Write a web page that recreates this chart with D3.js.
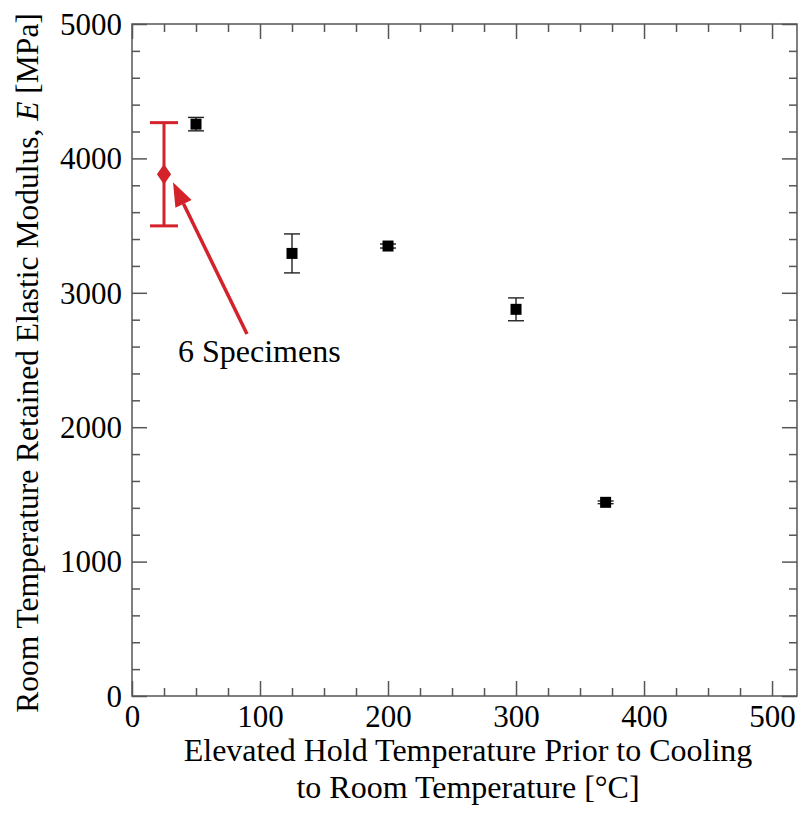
<!DOCTYPE html>
<html>
<head>
<meta charset="utf-8">
<script src="https://cdn.jsdelivr.net/npm/d3@7"></script>
<style>
  html, body { margin: 0; padding: 0; background: #fff; }
  svg { display: block; }
  svg text { font-family: "Liberation Serif", "Times New Roman", serif; }
</style>
</head>
<body>
<svg id="chart" width="800" height="822"></svg>
<script>
// Heat-exposed specimens: hold temperature (°C), retained modulus (MPa), ± spread
const holdTemps   = [50, 125, 200, 300, 370];
const modulusMean = [4255, 3293, 3348, 2877, 1441];
const modulusErr  = [50, 145, 15, 85, 10];

// Reference (unexposed) group of 6 specimens
const refTemp = [25];
const refMean = [3882];
const refErr  = [384];

const xMajorTicks = [0, 100, 200, 300, 400, 500];
const yMajorTicks = [0, 1000, 2000, 3000, 4000, 5000];

const svg = d3.select("#chart");
const margin = { left: 132, top: 24, right: 797, bottom: 696 };

const x = d3.scaleLinear().domain([0, 519.5]).range([margin.left, margin.right]);
const y = d3.scaleLinear().domain([0, 5000]).range([margin.bottom, margin.top]);

const axisColor = "#555";
const red = "#d3222a";
const tickFont = 31;
const titleFont = 32;

// Inward ticks on all four sides
const xMinor = d3.range(0, 520, 25).filter(v => v % 100 !== 0);
const yMinor = d3.range(0, 5001, 200).filter(v => v % 1000 !== 0);

function addAxis(gen, transform) {
  const g = svg.append("g").attr("transform", transform).call(gen)
    .attr("font-family", null).attr("font-size", null);
  g.select(".domain").remove();
  g.selectAll("line").attr("stroke", axisColor).attr("stroke-width", 1.5);
  return g;
}

// bottom
addAxis(d3.axisBottom(x).tickValues(xMajorTicks).tickSize(-15).tickFormat(d3.format("d")),
        `translate(0,${margin.bottom})`)
  .selectAll("text").attr("font-size", tickFont).attr("fill", "#000").attr("dy", null).attr("y", 31);
addAxis(d3.axisBottom(x).tickValues(xMinor).tickSize(-8).tickFormat(""), `translate(0,${margin.bottom})`);
// top
addAxis(d3.axisTop(x).tickValues(xMajorTicks).tickSize(-15).tickFormat(""), `translate(0,${margin.top})`);
addAxis(d3.axisTop(x).tickValues(xMinor).tickSize(-8).tickFormat(""), `translate(0,${margin.top})`);
// left
addAxis(d3.axisLeft(y).tickValues(yMajorTicks).tickSize(-15).tickFormat(d3.format("d")),
        `translate(${margin.left},0)`)
  .selectAll("text").attr("font-size", tickFont).attr("fill", "#000").attr("x", -10).attr("dy", "0.33em");
addAxis(d3.axisLeft(y).tickValues(yMinor).tickSize(-8).tickFormat(""), `translate(${margin.left},0)`);
// right
addAxis(d3.axisRight(y).tickValues(yMajorTicks).tickSize(-15).tickFormat(""), `translate(${margin.right},0)`);
addAxis(d3.axisRight(y).tickValues(yMinor).tickSize(-8).tickFormat(""), `translate(${margin.right},0)`);

// frame
svg.append("rect")
  .attr("x", margin.left).attr("y", margin.top)
  .attr("width", margin.right - margin.left).attr("height", margin.bottom - margin.top)
  .attr("fill", "none").attr("stroke", axisColor).attr("stroke-width", 1.5);

// Heat-exposed series: error bars + square markers
const pts = holdTemps.map((t, i) => ({ t, m: modulusMean[i], e: modulusErr[i] }));
const eb = svg.append("g").attr("stroke", "#222").attr("stroke-width", 1.4);
pts.forEach(d => {
  const cx = x(d.t), top = y(d.m + d.e), bot = y(d.m - d.e);
  eb.append("line").attr("x1", cx).attr("x2", cx).attr("y1", top).attr("y2", bot);
  eb.append("line").attr("x1", cx - 8).attr("x2", cx + 8).attr("y1", top).attr("y2", top);
  eb.append("line").attr("x1", cx - 8).attr("x2", cx + 8).attr("y1", bot).attr("y2", bot);
});
svg.append("g").selectAll("rect").data(pts).join("rect")
  .attr("x", d => x(d.t) - 5.5).attr("y", d => y(d.m) - 5.5)
  .attr("width", 11).attr("height", 11).attr("fill", "#000");

// Reference group: red error bar + diamond
const ref = refTemp.map((t, i) => ({ t, m: refMean[i], e: refErr[i] }));
const rg = svg.append("g").attr("stroke", red).attr("stroke-width", 3);
ref.forEach(d => {
  const cx = x(d.t), top = y(d.m + d.e), bot = y(d.m - d.e);
  rg.append("line").attr("x1", cx).attr("x2", cx).attr("y1", top).attr("y2", bot);
  rg.append("line").attr("x1", cx - 14).attr("x2", cx + 14).attr("y1", top).attr("y2", top);
  rg.append("line").attr("x1", cx - 14).attr("x2", cx + 14).attr("y1", bot).attr("y2", bot);
});
svg.append("g").selectAll("path").data(ref).join("path")
  .attr("d", d3.symbol().type(d3.symbolDiamond).size(120))
  .attr("transform", d => `translate(${x(d.t)},${y(d.m)}) scale(1.2,1)`)
  .attr("fill", red);

// Annotation arrow pointing at the reference mean
const tail = [247, 334], tip = [x(refTemp[0]) + 9, y(refMean[0]) + 8];
const ang = Math.atan2(tip[1] - tail[1], tip[0] - tail[0]);
const headLen = 24, headHalf = 9;
const base = [tip[0] - headLen * Math.cos(ang), tip[1] - headLen * Math.sin(ang)];
svg.append("line")
  .attr("x1", tail[0]).attr("y1", tail[1]).attr("x2", base[0]).attr("y2", base[1])
  .attr("stroke", red).attr("stroke-width", 3.5);
svg.append("path")
  .attr("d", `M${tip[0]},${tip[1]}
              L${base[0] + headHalf * Math.sin(ang)},${base[1] - headHalf * Math.cos(ang)}
              L${base[0] - headHalf * Math.sin(ang)},${base[1] + headHalf * Math.cos(ang)}Z`)
  .attr("fill", red);
svg.append("text").attr("x", 178).attr("y", 362).attr("font-size", titleFont).text("6 Specimens");

// Axis titles
svg.append("text").attr("x", 468).attr("y", 761).attr("text-anchor", "middle").attr("font-size", titleFont)
  .text("Elevated Hold Temperature Prior to Cooling");
svg.append("text").attr("x", 468).attr("y", 798).attr("text-anchor", "middle").attr("font-size", titleFont)
  .text("to Room Temperature [°C]");

const yl = svg.append("text").attr("transform", "translate(38,363) rotate(-90)")
  .attr("text-anchor", "middle").attr("font-size", 31.5);
yl.append("tspan").text("Room Temperature Retained Elastic Modulus, ");
yl.append("tspan").attr("font-style", "italic").text("E");
yl.append("tspan").text(" [MPa]");
</script>
</body>
</html>
